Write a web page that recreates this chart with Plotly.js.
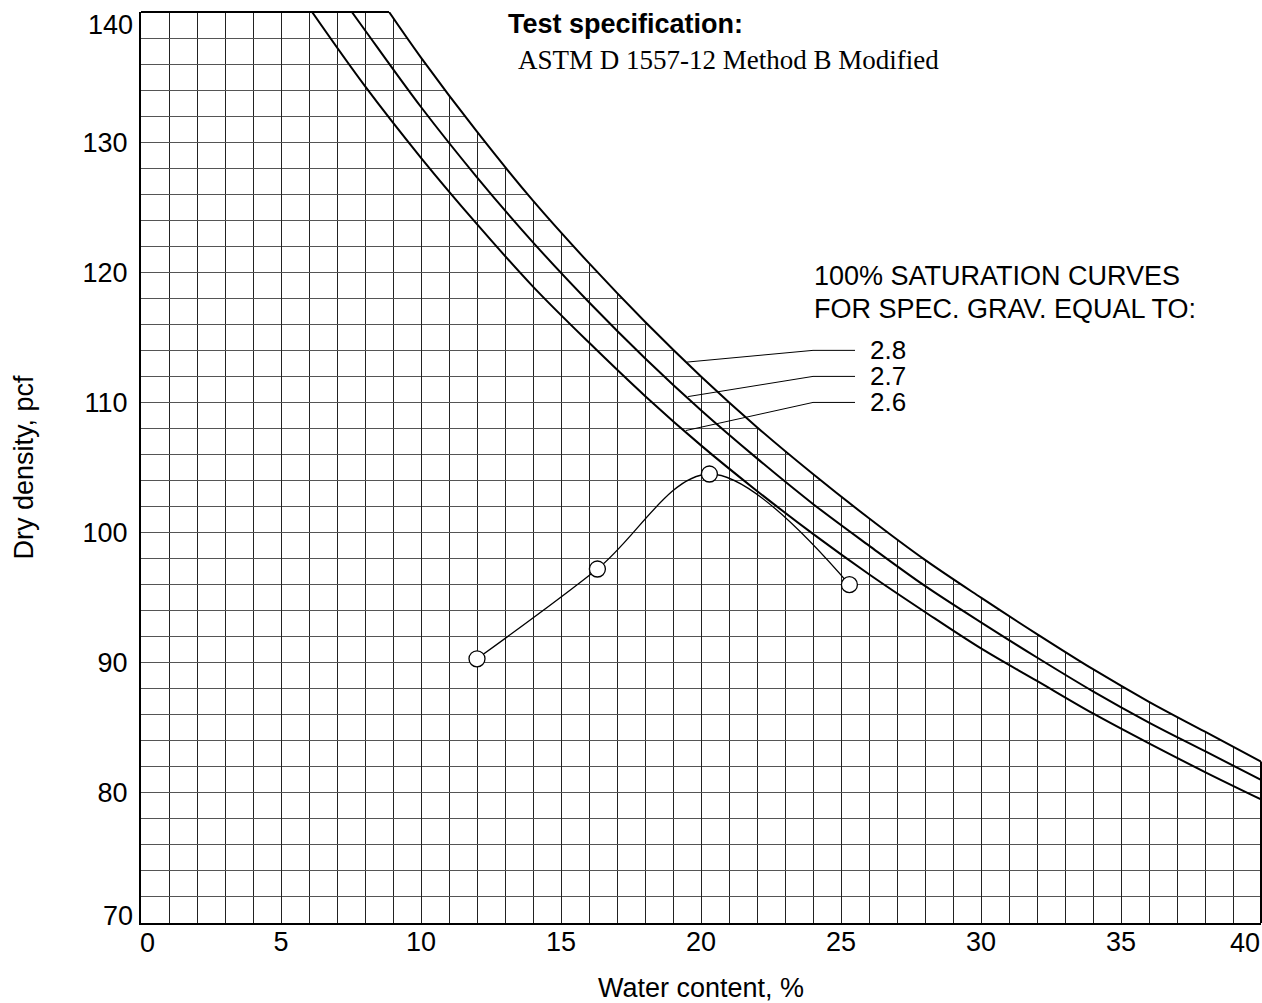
<!DOCTYPE html>
<html>
<head>
<meta charset="utf-8">
<script src="https://cdn.plot.ly/plotly-3.0.1.min.js"></script>
<style>html,body{margin:0;padding:0;background:#fff;}#chart{width:1262px;height:1003px;}</style>
</head>
<body>
<div id="chart"></div>
<script>
// Compaction test points
const waterContent = [12.0, 16.3, 20.3, 25.3];
const dryDensity = [90.3, 97.2, 104.5, 96.0];

// 100% saturation curves
const satW28 = [8.86, 10, 12, 14, 16, 18, 20, 22, 24, 26, 28, 30, 32, 34, 36, 38, 40];
const satD28 = [140, 136.5, 130.8, 125.5, 120.7, 116.2, 112.0, 108.1, 104.5, 101.1, 97.9, 95.0, 92.2, 89.5, 87.0, 84.7, 82.4];
const satW27 = [7.53, 8, 10, 12, 14, 16, 18, 20, 22, 24, 26, 28, 30, 32, 34, 36, 38, 40];
const satD27 = [140, 138.6, 132.7, 127.3, 122.3, 117.7, 113.4, 109.4, 105.7, 102.2, 99.0, 95.9, 93.1, 90.4, 87.8, 85.4, 83.2, 81.0];
const satW26 = [6.11, 8, 10, 12, 14, 16, 18, 20, 22, 24, 26, 28, 30, 32, 34, 36, 38, 40];
const satD26 = [140, 134.3, 128.8, 123.7, 118.9, 114.6, 110.5, 106.7, 103.2, 99.9, 96.8, 93.9, 91.1, 88.6, 86.1, 83.8, 81.6, 79.5];

const specGravLabels = ['2.8', '2.7', '2.6'];
const specGravLabelY = [114, 112, 110];
const leaderStartW = [19.5, 19.54, 19.46];
const leaderStartD = [113.1, 110.45, 107.84];

const xTickVals = [0, 5, 10, 15, 20, 25, 30, 35, 40];
const xTickText = ['0', '5', '10', '15', '20', '25', '30', '35', '40'];
const yTickVals = [70, 80, 90, 100, 110, 120, 130, 140];
const yTickText = ['70', '80', '90', '100', '110', '120', '130', '140'];

const X0 = xTickVals[0], X1 = xTickVals[xTickVals.length - 1];
const Y0 = yTickVals[0], Y1 = yTickVals[yTickVals.length - 1];

const traces = [];
// blank (no grid) region above the Gs = 2.8 curve
traces.push({x: [satW28[0], X1], y: [Y1, Y1], mode: 'lines', type: 'scatter',
  line: {width: 0, color: 'rgba(0,0,0,0)'}, hoverinfo: 'skip', showlegend: false});
traces.push({x: satW28, y: satD28, mode: 'lines', type: 'scatter', fill: 'tonexty', fillcolor: '#fff',
  line: {width: 0, color: 'rgba(0,0,0,0)', shape: 'spline', smoothing: 1}, hoverinfo: 'skip', showlegend: false});

const satLines = [[satW28, satD28], [satW27, satD27], [satW26, satD26]];
satLines.forEach(([w, d]) => traces.push({
  x: w, y: d, mode: 'lines', type: 'scatter',
  line: {color: '#000', width: 2, shape: 'spline', smoothing: 1},
  hoverinfo: 'skip', showlegend: false
}));
traces.push({
  x: waterContent, y: dryDensity, mode: 'lines', type: 'scatter',
  line: {color: '#000', width: 1.3, shape: 'spline', smoothing: 1},
  showlegend: false
});
traces.push({
  x: waterContent, y: dryDensity, mode: 'markers', type: 'scatter',
  marker: {size: 16, color: '#fff', line: {color: '#000', width: 1.3}},
  showlegend: false
});

const AR = 'Liberation Sans, Arial, sans-serif';
const TM = 'Liberation Serif, Times New Roman, serif';
const FS = 27;

const shapes = [];
specGravLabels.forEach((lab, i) => {
  shapes.push({type: 'path', xref: 'x', yref: 'y',
    path: `M ${leaderStartW[i]},${leaderStartD[i]} L 24,${specGravLabelY[i]} L 25.5,${specGravLabelY[i]}`,
    line: {color: '#000', width: 1}});
});
// partial frame: top edge up to the 2.8 curve, right edge below it
shapes.push({type: 'line', xref: 'paper', yref: 'paper', x0: 0, x1: (satW28[0] - X0) / (X1 - X0), y0: 1, y1: 1,
  line: {color: '#000', width: 2}});
shapes.push({type: 'line', xref: 'paper', yref: 'paper', x0: 1, x1: 1, y0: 0, y1: (satD28[satD28.length - 1] - Y0) / (Y1 - Y0),
  line: {color: '#000', width: 2}});

const annotations = [];
specGravLabels.forEach((lab, i) => {
  annotations.push({x: 25.96, y: specGravLabelY[i], xref: 'x', yref: 'y', text: lab,
    showarrow: false, xanchor: 'left', yanchor: 'middle', font: {family: AR, size: 26, color: '#000'}});
});
annotations.push({x: 23.95, y: 119.75, xref: 'x', yref: 'y', text: '100% SATURATION CURVES',
  showarrow: false, xanchor: 'left', yanchor: 'middle', font: {family: AR, size: FS, color: '#000'}});
annotations.push({x: 23.95, y: 117.2, xref: 'x', yref: 'y', text: 'FOR SPEC. GRAV. EQUAL TO:',
  showarrow: false, xanchor: 'left', yanchor: 'middle', font: {family: AR, size: FS, color: '#000'}});
annotations.push({x: 13.05, y: 139.1, xref: 'x', yref: 'y', text: '<b>Test specification:</b>',
  showarrow: false, xanchor: 'left', yanchor: 'middle', font: {family: AR, size: FS, color: '#000'}});
annotations.push({x: 13.4, y: 136.3, xref: 'x', yref: 'y', text: 'ASTM D 1557-12 Method B Modified',
  showarrow: false, xanchor: 'left', yanchor: 'middle', font: {family: TM, size: FS, color: '#000'}});

// end tick labels, nudged inside like the reference
annotations.push({x: X0, y: 0, xref: 'x', yref: 'paper', text: xTickText[0], showarrow: false,
  xanchor: 'center', yanchor: 'top', xshift: 6, yshift: -3, font: {family: AR, size: FS, color: '#000'}});
annotations.push({x: X1, y: 0, xref: 'x', yref: 'paper', text: xTickText[xTickText.length - 1], showarrow: false,
  xanchor: 'center', yanchor: 'top', xshift: -16, yshift: -3, font: {family: AR, size: FS, color: '#000'}});
annotations.push({x: 0, y: Y0, xref: 'paper', yref: 'y', text: yTickText[0], showarrow: false,
  xanchor: 'right', yanchor: 'middle', xshift: -6, yshift: 7.5, font: {family: AR, size: FS, color: '#000'}});
annotations.push({x: 0, y: Y1, xref: 'paper', yref: 'y', text: yTickText[yTickText.length - 1], showarrow: false,
  xanchor: 'right', yanchor: 'middle', xshift: -6, yshift: -12.5, font: {family: AR, size: FS, color: '#000'}});

const layout = {
  width: 1262, height: 1003,
  margin: {l: 141, r: 1, t: 12, b: 80},
  paper_bgcolor: '#fff', plot_bgcolor: '#fff',
  showlegend: false,
  font: {family: AR, size: FS, color: '#000'},
  xaxis: {
    range: [X0, X1], tickvals: xTickVals.slice(1, -1), ticktext: xTickText.slice(1, -1),
    showgrid: true, gridcolor: '#222', gridwidth: 1,
    minor: {dtick: 1, tick0: 0, showgrid: true, gridcolor: '#222', gridwidth: 1},
    showline: true, linecolor: '#000', linewidth: 2, mirror: false,
    ticks: '', ticklabelstandoff: -6, zeroline: false,
    tickfont: {family: AR, size: FS, color: '#000'},
    title: {text: 'Water content, %', font: {family: AR, size: FS, color: '#000'}, standoff: 28}
  },
  yaxis: {
    range: [Y0, Y1], tickvals: yTickVals.slice(1, -1), ticktext: yTickText.slice(1, -1),
    showgrid: true, gridcolor: '#555', gridwidth: 1,
    minor: {dtick: 2, tick0: 70, showgrid: true, gridcolor: '#555', gridwidth: 1},
    showline: true, linecolor: '#000', linewidth: 2, mirror: false,
    ticks: '', ticklabelstandoff: 6, zeroline: false,
    tickfont: {family: AR, size: FS, color: '#000'},
    title: {text: 'Dry density, pcf', font: {family: AR, size: FS, color: '#000'}, standoff: 41}
  },
  shapes: shapes,
  annotations: annotations
};

Plotly.newPlot('chart', traces, layout, {displayModeBar: false, staticPlot: true});
</script>
</body>
</html>
